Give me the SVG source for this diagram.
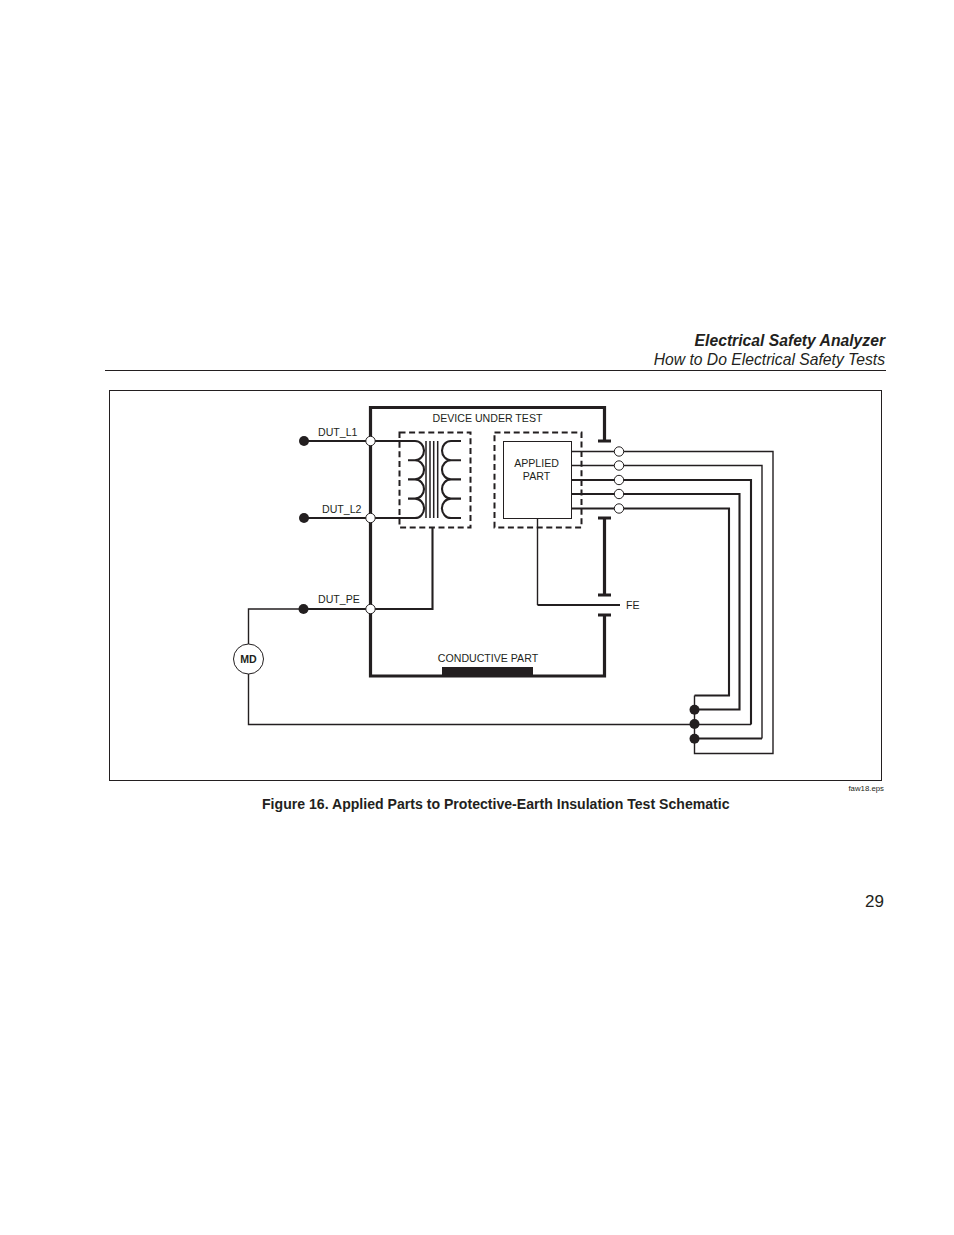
<svg xmlns="http://www.w3.org/2000/svg" width="954" height="1235" viewBox="0 0 954 1235">
<style>
text{font-family:"Liberation Sans",Arial,sans-serif;fill:#231f20}
.l{font-size:10.6px}
.w{fill:none;stroke:#231f20;stroke-linejoin:miter}
.t1{stroke-width:1.4}
.t2{stroke-width:2.1}
.t3{stroke-width:3.2}
.c{stroke-width:1.5}
.d{fill:none;stroke:#231f20;stroke-width:2;stroke-dasharray:6 3.6}
.o{fill:#fff;stroke:#231f20;stroke-width:1}
.b{fill:#231f20}
</style>
<rect width="954" height="1235" fill="#fff"/>
<g id="header">
<text x="885" y="346" text-anchor="end" font-size="15.7" font-weight="bold" font-style="italic">Electrical Safety Analyzer</text>
<text x="885" y="365" text-anchor="end" font-size="15.7" font-style="italic">How to Do Electrical Safety Tests</text>
<line x1="105" y1="370.5" x2="886" y2="370.5" stroke="#231f20" stroke-width="1"/>
</g>
<rect id="frame" x="109.5" y="390.5" width="772" height="390" fill="none" stroke="#231f20" stroke-width="1"/>
<g id="connectors">
<path class="w t3" d="M604.5 441V407.5H370.5V676H604.5V615"/>
<path class="w t3" d="M604.5 518V595"/>
<path class="w t3" d="M598 441H611M598 518H611M598 595H611M598 615H611"/>
<path class="w t2" d="M303.5 441H415M303.5 518H415"/>
<path class="w t2" d="M303.5 609H432.5V528"/>
<path class="w t1" d="M303.5 609H248.5V644M248.5 674V724.5H694.5"/>
<path class="w t1" d="M537.5 518.5V605"/>
<path class="w t2" d="M537.5 605H620"/>
<path class="w t1" d="M571.5 451.5H773V753.5H694.5V695.5"/>
<path class="w t1" d="M571.5 465.5H762V738.5"/>
<path class="w t2" d="M762 738.5H694.5"/>
<path class="w t2" d="M571.5 480H751V724.5"/>
<path class="w t1" d="M751 724.5H694.5"/>
<path class="w t2" d="M571.5 494H739.5V709.5H694.5"/>
<path class="w t2" d="M571.5 508.5H729V695.5H694.5"/>
</g>
<g id="transformer">
<path class="w t2" d="M415 441A9 9.6 0 0 1 415 460.2H408M408 460.2H415A9 9.6 0 0 1 415 479.4H408M408 479.4H415A9 9.6 0 0 1 415 498.6H408M408 498.6H415A9 9.6 0 0 1 415 518"/>
<path class="w t2" d="M461 441H451A9 9.6 0 0 0 451 460.2H461M461 460.2H451A9 9.6 0 0 0 451 479.4H461M461 479.4H451A9 9.6 0 0 0 451 498.6H461M461 498.6H451A9 9.6 0 0 0 451 518H461"/>
<path class="w c" d="M426 441V518M430 441V518M433.7 441V518M437.7 441V518"/>
<rect class="d" x="399.5" y="432.5" width="71" height="95"/>
<text class="l" x="487.5" y="422" text-anchor="middle">DEVICE UNDER TEST</text>
</g>
<g id="applied-part">
<rect class="d" x="494.5" y="432.5" width="87" height="95"/>
<rect x="503.5" y="441.5" width="68" height="77" fill="#fff" stroke="#231f20" stroke-width="1"/>
<text class="l" x="536.5" y="467" text-anchor="middle">APPLIED</text>
<text class="l" x="536.5" y="480" text-anchor="middle">PART</text>
</g>
<g id="conductive-part">
<rect class="b" x="442" y="667" width="91" height="9"/>
<text class="l" x="488" y="662" text-anchor="middle">CONDUCTIVE PART</text>
</g>
<g id="dut-l1"><circle class="b" cx="304" cy="441" r="5"/><circle class="o" cx="370.5" cy="441" r="4.7"/><text class="l" x="318" y="436">DUT_L1</text></g>
<g id="dut-l2"><circle class="b" cx="304" cy="518" r="5"/><circle class="o" cx="370.5" cy="518" r="4.7"/><text class="l" x="322" y="513">DUT_L2</text></g>
<g id="dut-pe"><circle class="b" cx="303.5" cy="609" r="5"/><circle class="o" cx="370.5" cy="609" r="4.7"/><text class="l" x="318" y="603">DUT_PE</text></g>
<g id="md"><circle class="o" cx="248.5" cy="659" r="15"/><text x="248.5" y="663" text-anchor="middle" font-size="10.6" font-weight="bold">MD</text></g>
<g id="fe"><text class="l" x="626" y="609">FE</text></g>
<g id="terminals">
<circle class="o" cx="619" cy="451.5" r="4.7"/>
<circle class="o" cx="619" cy="465.5" r="4.7"/>
<circle class="o" cx="619" cy="480" r="4.7"/>
<circle class="o" cx="619" cy="494" r="4.7"/>
<circle class="o" cx="619" cy="508.5" r="4.7"/>
</g>
<g id="junctions">
<circle class="b" cx="694.5" cy="709.7" r="5"/>
<circle class="b" cx="694.5" cy="724" r="5"/>
<circle class="b" cx="694.5" cy="738.7" r="5"/>
</g>
<text x="884" y="791" text-anchor="end" font-size="7.8">faw18.eps</text>
<text x="262" y="809" font-size="14.1" font-weight="bold">Figure 16. Applied Parts to Protective-Earth Insulation Test Schematic</text>
<text x="884" y="907" text-anchor="end" font-size="17">29</text>
</svg>
